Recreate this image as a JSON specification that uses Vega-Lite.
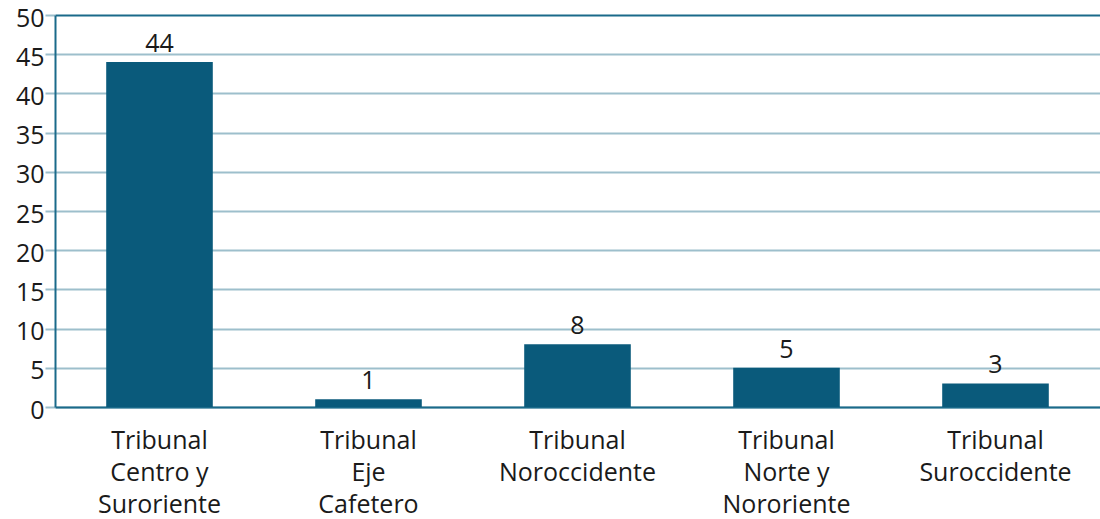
{
  "$schema": "https://vega.github.io/schema/vega-lite/v6.json",
  "width": 1045,
  "height": 392,
  "autosize": {"type": "none"},
  "padding": {"left": 55, "top": 15, "right": 0, "bottom": 112},
  "background": "#ffffff",
  "config": {
    "view": {"stroke": null},
    "font": "Open Sans",
    "axis": {"labelFont": "Open Sans", "labelColor": "#1a1a1a"}
  },
  "data": {
    "values": [
      {"tribunal": "Tribunal|Centro y|Suroriente", "casos": 44},
      {"tribunal": "Tribunal|Eje|Cafetero", "casos": 1},
      {"tribunal": "Tribunal|Noroccidente", "casos": 8},
      {"tribunal": "Tribunal|Norte y|Nororiente", "casos": 5},
      {"tribunal": "Tribunal|Suroccidente", "casos": 3}
    ]
  },
  "encoding": {
    "x": {
      "field": "tribunal",
      "type": "nominal",
      "sort": null,
      "scale": {"paddingInner": 0.49, "paddingOuter": 0.245},
      "axis": {
        "title": null,
        "labelAngle": 0,
        "labelExpr": "split(datum.label, '|')",
        "labelFontSize": 25,
        "labelLineHeight": 32,
        "labelPadding": 21,
        "ticks": false,
        "domainColor": "#1a6a8a",
        "domainWidth": 2,
        "labelLimit": 300
      }
    },
    "y": {
      "field": "casos",
      "type": "quantitative",
      "scale": {"domain": [0, 50], "nice": false},
      "axis": {
        "title": null,
        "values": [0, 5, 10, 15, 20, 25, 30, 35, 40, 45, 50],
        "labelFontSize": 25,
        "labelPadding": 1,
        "labelOffset": 3,
        "tickSize": 10,
        "tickColor": "#9dbfcc",
        "tickWidth": 2,
        "gridColor": {"condition": {"test": "datum.value === 50", "value": "#1a6a8a"}, "value": "#9dbfcc"},
        "gridWidth": 2,
        "domainColor": "#1a6a8a",
        "domainWidth": 2
      }
    }
  },
  "layer": [
    {"mark": {"type": "bar", "color": "#0a5a7b"}},
    {
      "mark": {"type": "text", "baseline": "bottom", "dy": -5, "fontSize": 25, "color": "#1a1a1a", "font": "Open Sans"},
      "encoding": {"text": {"field": "casos", "type": "quantitative"}}
    }
  ]
}
